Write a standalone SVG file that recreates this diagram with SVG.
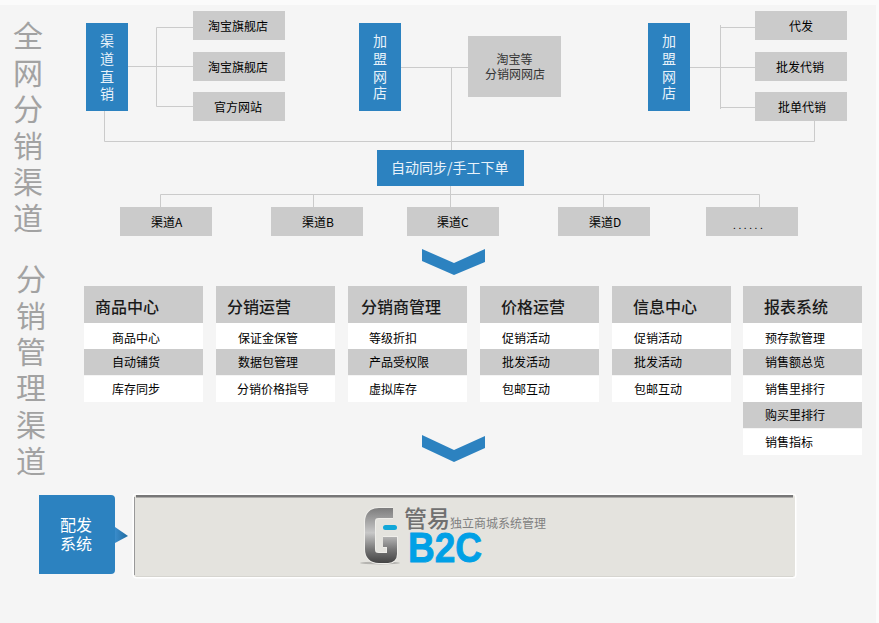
<svg xmlns="http://www.w3.org/2000/svg" width="879" height="623" viewBox="0 0 879 623">
<style>
text{font-family:"Noto Sans CJK SC","Noto Sans",sans-serif}
.g{fill:#cbcbcb}.w{fill:#fff}.b{fill:#2c82c0}
.t{font-size:12px;fill:#000}
.h{font-size:16px;fill:#1a1a1a;font-weight:500}
.v{font-size:14px;fill:#e8f2fa;text-anchor:middle}
.big{font-size:30px;fill:#a2a2a2;text-anchor:middle}
.c{text-anchor:middle}
#connectors path{fill:none;stroke:#cbcbcb;stroke-width:1}
</style>
<defs>
<linearGradient id="lg" gradientUnits="userSpaceOnUse" x1="0" y1="508" x2="0" y2="563"><stop offset="0" stop-color="#7d7d7d"/><stop offset=".45" stop-color="#c8c8c8"/><stop offset=".75" stop-color="#777"/><stop offset="1" stop-color="#444"/></linearGradient>
<linearGradient id="tri" x1="0" y1="0" x2="1" y2="0"><stop offset="0" stop-color="#3a8ccb"/><stop offset="1" stop-color="#1f6a9f"/></linearGradient>
</defs>
<rect width="879" height="623" fill="#f5f5f5"/>
<rect width="879" height="5" fill="#fbfbfb"/>
<rect x="876" width="3" height="623" fill="#fbfbfb"/>
<g id="titles">
<g class="big"><text class="big" x="28" y="47">全</text><text class="big" x="28" y="84">网</text><text class="big" x="28" y="120">分</text><text class="big" x="28" y="157">销</text><text class="big" x="28" y="193">渠</text><text class="big" x="28" y="229">道</text>
<text class="big" x="31" y="290">分</text><text class="big" x="31" y="327">销</text><text class="big" x="31" y="363">管</text><text class="big" x="31" y="399">理</text><text class="big" x="31" y="436">渠</text><text class="big" x="31" y="472">道</text></g>
</g>
<g id="connectors">
<path d="M126 66.500H193M156.500 27.500V106.500M156.500 27.500H193M156.500 106.500H193"/>
<path d="M104.500 111V141.500H814.500V121"/>
<path d="M399 67.500H468M451.500 67.500V150"/>
<path d="M689 67.500H755M720.500 25V109M720.500 27.500H755M720.500 107.500H755"/>
<path d="M160.500 207V194.500H759.500V207M313.500 194.500V207M603.500 194.500V207M450.500 186V207"/>
</g>
<g id="n-direct"><rect class="b" x="86" y="23" width="42" height="88"/><text class="v" x="107" y="46">渠</text><text class="v" x="107" y="64">道</text><text class="v" x="107" y="82">直</text><text class="v" x="107" y="99">销</text></g>
<g id="n-tb1"><rect class="g" x="193" y="11" width="92" height="29"/><text class="t" x="208" y="31">淘宝旗舰店</text></g>
<g id="n-tb2"><rect class="g" x="193" y="52" width="92" height="29"/><text class="t" x="208" y="72">淘宝旗舰店</text></g>
<g id="n-site"><rect class="g" x="193" y="92" width="92" height="29"/><text class="t" x="214" y="112">官方网站</text></g>
<g id="n-join1"><rect class="b" x="359" y="23" width="42" height="88"/><text class="v" x="380" y="46">加</text><text class="v" x="380" y="64">盟</text><text class="v" x="380" y="82">网</text><text class="v" x="380" y="98">店</text></g>
<g id="n-tbd"><rect class="g" x="468" y="36" width="93" height="61"/><text class="t c" x="514.500" y="64" style="fill:#333">淘宝等</text><text class="t c" x="515" y="79" style="fill:#333">分销网网店</text></g>
<g id="n-join2"><rect class="b" x="648" y="23" width="42" height="88"/><text class="v" x="669" y="46">加</text><text class="v" x="669" y="64">盟</text><text class="v" x="669" y="82">网</text><text class="v" x="669" y="98">店</text></g>
<g id="n-daifa"><rect class="g" x="755" y="11" width="92" height="29"/><text class="t" x="789" y="31">代发</text></g>
<g id="n-pifa"><rect class="g" x="755" y="52" width="92" height="29"/><text class="t" x="776" y="72">批发代销</text></g>
<g id="n-pidan"><rect class="g" x="755" y="92" width="92" height="29"/><text class="t" x="778" y="112">批单代销</text></g>
<g id="n-sync"><rect class="b" x="377" y="150" width="147" height="36"/><text x="391" y="173" font-size="14" fill="#e8f2fa">自动同步/手工下单</text></g>
<g id="n-a"><rect class="g" x="120" y="207" width="92" height="29"/><text class="t" x="151" y="227">渠道A</text></g>
<g id="n-b"><rect class="g" x="271" y="207" width="92" height="29"/><text class="t" x="302" y="227">渠道B</text></g>
<g id="n-c"><rect class="g" x="407" y="207" width="92" height="29"/><text class="t" x="437" y="227">渠道C</text></g>
<g id="n-d"><rect class="g" x="558" y="207" width="92" height="29"/><text class="t" x="589" y="227">渠道D</text></g>
<g id="n-more"><rect class="g" x="706" y="207" width="92" height="29"/><text x="733" y="229" letter-spacing="2.600" style="font-size:10px;fill:#000">......</text></g>
<polygon id="chevron1" class="b" points="422,249 454,263 485,249 485,262 454,275 422,261"/>
<g id="col1"><rect class="g" x="84" y="286" width="119" height="37"/><rect class="w" x="84" y="323" width="119" height="26"/><rect class="g" x="84" y="349" width="119" height="26"/><rect class="w" x="84" y="376" width="119" height="26"/>
<text class="h" x="95" y="313">商品中心</text><text class="t" x="112" y="343">商品中心</text><text class="t" x="112" y="367">自动铺货</text><text class="t" x="112" y="394">库存同步</text></g>
<g id="col2"><rect class="g" x="216" y="286" width="119" height="37"/><rect class="w" x="216" y="323" width="119" height="26"/><rect class="g" x="216" y="349" width="119" height="26"/><rect class="w" x="216" y="376" width="119" height="26"/>
<text class="h" x="227" y="313">分销运营</text><text class="t" x="238" y="343">保证金保管</text><text class="t" x="238" y="367">数据包管理</text><text class="t" x="237" y="394">分销价格指导</text></g>
<g id="col3"><rect class="g" x="348" y="286" width="119" height="37"/><rect class="w" x="348" y="323" width="119" height="26"/><rect class="g" x="348" y="349" width="119" height="26"/><rect class="w" x="348" y="376" width="119" height="26"/>
<text class="h" x="361" y="313">分销商管理</text><text class="t" x="369" y="343">等级折扣</text><text class="t" x="369" y="367">产品受权限</text><text class="t" x="369" y="394">虚拟库存</text></g>
<g id="col4"><rect class="g" x="480" y="286" width="119" height="37"/><rect class="w" x="480" y="323" width="119" height="26"/><rect class="g" x="480" y="349" width="119" height="26"/><rect class="w" x="480" y="376" width="119" height="26"/>
<text class="h" x="501" y="313">价格运营</text><text class="t" x="502" y="343">促销活动</text><text class="t" x="502" y="367">批发活动</text><text class="t" x="502" y="394">包邮互动</text></g>
<g id="col5"><rect class="g" x="612" y="286" width="119" height="37"/><rect class="w" x="612" y="323" width="119" height="26"/><rect class="g" x="612" y="349" width="119" height="26"/><rect class="w" x="612" y="376" width="119" height="26"/>
<text class="h" x="633" y="313">信息中心</text><text class="t" x="634" y="343">促销活动</text><text class="t" x="634" y="367">批发活动</text><text class="t" x="634" y="394">包邮互动</text></g>
<g id="col6"><rect class="g" x="743" y="286" width="119" height="37"/><rect class="w" x="743" y="323" width="119" height="26"/><rect class="g" x="743" y="349" width="119" height="26"/><rect class="w" x="743" y="376" width="119" height="26"/><rect class="g" x="743" y="402" width="119" height="26"/><rect class="w" x="743" y="429" width="119" height="26"/>
<text class="h" x="764" y="313">报表系统</text><text class="t" x="765" y="343">预存款管理</text><text class="t" x="765" y="367">销售额总览</text><text class="t" x="765" y="394">销售里排行</text><text class="t" x="765" y="420">购买里排行</text><text class="t" x="765" y="447">销售指标</text></g>
<polygon id="chevron2" class="b" points="422,435 454,450 485,436 485,448 454,462 422,447"/>
<g id="n-peifa"><path class="b" d="M39 495H111Q115 495 115 499V570Q115 574 111 574H39Z"/><polygon points="115,527 128,536 115,543" fill="url(#tri)"/>
<text class="c" x="76" y="531" font-size="16" fill="#fff">配发</text><text class="c" x="76" y="550" font-size="16" fill="#fff">系统</text></g>
<g id="n-b2c"><rect x="132.500" y="493.500" width="664" height="85" rx="4" fill="#fff"/><rect x="134" y="495" width="661" height="82" rx="2" fill="#e4e3de"/><path d="M136 496.200H793" stroke="#777" stroke-width="2.400"/><path d="M134.500 497V575" stroke="#999"/><path d="M136 576.500H793" stroke="#d6d5d0"/>
<ellipse cx="380" cy="563" rx="20" ry="1.500" fill="#b5b4b0"/>
<path d="M393 513H379Q370 513 370 522V549Q370 558 379 558H388Q392 558 392 554V542H383" fill="none" stroke="#efeeea" stroke-width="12"/>
<path d="M393 513H379Q370 513 370 522V549Q370 558 379 558H388Q392 558 392 554V542H383" fill="none" stroke="url(#lg)" stroke-width="10"/>
<rect x="383" y="525" width="14" height="5" rx="2.500" fill="#12a7d8"/>
<text x="404" y="527" font-size="23" fill="#707070" style="font-weight:500">管易</text>
<text transform="translate(408 562) scale(1 1.130)" font-size="37" font-weight="700" fill="#00a0e6" stroke="#00a0e6" stroke-width=".8" style="font-family:'Liberation Sans',sans-serif">B2C</text>
<text x="450" y="528" font-size="12" fill="#808080">独立商城系统管理</text></g>
</svg>
